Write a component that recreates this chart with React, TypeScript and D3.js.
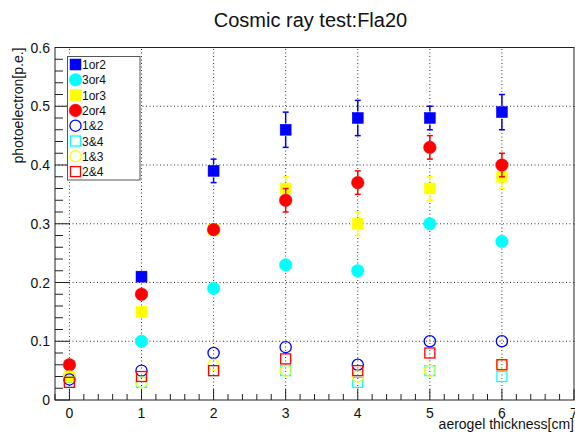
import React from "react";
import * as d3 from "d3";

const xs = [0, 1, 2, 3, 4, 5, 6];
const seriesNames = ["1or2", "3or4", "1or3", "2or4", "1&2", "3&4", "1&3", "2&4"];
const v1or2: (number | null)[] = [null, 0.21, 0.39, 0.46, 0.48, 0.48, 0.49];
const e1or2 = [0.01, 0.01, 0.02, 0.03, 0.03, 0.02, 0.03];
const v3or4 = [0.04, 0.1, 0.19, 0.23, 0.22, 0.3, 0.27];
const e3or4 = [0.01, 0.01, 0.01, 0.01, 0.01, 0.01, 0.01];
const v1or3 = [0.04, 0.15, 0.29, 0.36, 0.3, 0.36, 0.38];
const e1or3 = [0.01, 0.01, 0.01, 0.02, 0.02, 0.02, 0.02];
const v2or4 = [0.06, 0.18, 0.29, 0.34, 0.37, 0.43, 0.4];
const e2or4 = [0.01, 0.01, 0.01, 0.02, 0.02, 0.02, 0.02];
const v1and2 = [0.035, 0.05, 0.08, 0.09, 0.06, 0.1, 0.1];
const v3and4 = [0.03, 0.03, 0.05, 0.05, 0.03, 0.05, 0.04];
const v1and3 = [0.04, 0.03, 0.06, 0.05, 0.04, 0.05, 0.06];
const v2and4 = [0.03, 0.04, 0.05, 0.07, 0.05, 0.08, 0.06];
const xTicks = [0, 1, 2, 3, 4, 5, 6, 7];
const yTicks = [0, 0.1, 0.2, 0.3, 0.4, 0.5, 0.6];

type Series = { name: string; vals: (number | null)[]; errs: number[] | null; color: string; shape: "sq" | "ci"; filled: boolean };

const series: Series[] = [
  { name: seriesNames[0], vals: v1or2, errs: e1or2, color: "#0000ff", shape: "sq", filled: true },
  { name: seriesNames[1], vals: v3or4, errs: e3or4, color: "#00ffff", shape: "ci", filled: true },
  { name: seriesNames[2], vals: v1or3, errs: e1or3, color: "#ffff00", shape: "sq", filled: true },
  { name: seriesNames[3], vals: v2or4, errs: e2or4, color: "#ff0000", shape: "ci", filled: true },
  { name: seriesNames[4], vals: v1and2, errs: null, color: "#0000ff", shape: "ci", filled: false },
  { name: seriesNames[5], vals: v3and4, errs: null, color: "#00ffff", shape: "sq", filled: false },
  { name: seriesNames[6], vals: v1and3, errs: null, color: "#ffff00", shape: "ci", filled: false },
  { name: seriesNames[7], vals: v2and4, errs: null, color: "#ff0000", shape: "sq", filled: false },
];

const W = 575, H = 434;
const L = 55, R = 574, T = 47.5, B = 400;
const FONT = "'Liberation Sans', Arial, Helvetica, sans-serif";

function Marker({ s, cx, cy }: { s: Series; cx: number; cy: number }) {
  if (s.shape === "sq") {
    const h = s.filled ? 5.5 : 5;
    return (
      <rect x={cx - h} y={cy - h} width={2 * h} height={2 * h}
        fill={s.filled ? s.color : "none"} stroke={s.color} strokeWidth={s.filled ? 0.5 : 1.3} />
    );
  }
  const r = s.filled ? 6.3 : 5.6;
  return <circle cx={cx} cy={cy} r={r} fill={s.filled ? s.color : "none"} stroke={s.color} strokeWidth={s.filled ? 0.5 : 1.3} />;
}

export default function App() {
  const x = d3.scaleLinear().domain([-0.2, 7]).range([L, R]);
  const y = d3.scaleLinear().domain([0, 0.6]).range([B, T]);
  const xMinor = d3.range(-0.2, 7.0001, 0.2).map((v) => +v.toFixed(2));
  const yMinor = d3.range(0, 0.6001, 0.02).map((v) => +v.toFixed(3));
  const legX = 67.5, legY = 56.5, legW = 72.5, legH = 123.5;

  return (
    <svg width={W} height={H} style={{ position: "absolute", left: 0, top: 0, background: "#fff" }} fontFamily={FONT}>
      <rect x={0} y={0} width={W} height={H} fill="#fff" />
      {xs.map((v) => (
        <line key={"gx" + v} x1={x(v)} x2={x(v)} y1={B} y2={T} stroke="#333" strokeWidth={1} strokeDasharray="1,2.5" />
      ))}
      {yTicks.filter((v) => v > 0 && v < 0.6).map((v) => (
        <line key={"gy" + v} x1={L} x2={R} y1={y(v)} y2={y(v)} stroke="#333" strokeWidth={1} strokeDasharray="1,2.5" />
      ))}
      <rect x={L} y={T} width={R - L} height={B - T} fill="none" stroke="#222" strokeWidth={1} />
      {xMinor.map((v) => {
        const major = Math.abs(v - Math.round(v)) < 1e-6;
        return <line key={"xt" + v} x1={x(v)} x2={x(v)} y1={B} y2={B - (major ? 11 : 6)} stroke="#222" strokeWidth={1} />;
      })}
      {xTicks.map((v) => (
        <text key={"xl" + v} x={x(v)} y={418} fontSize={14} textAnchor="middle" fill="#111">{v}</text>
      ))}
      {yMinor.map((v) => {
        const major = Math.abs(v * 10 - Math.round(v * 10)) < 1e-6;
        return <line key={"yt" + v} x1={L} x2={L + (major ? 15 : 8)} y1={y(v)} y2={y(v)} stroke="#222" strokeWidth={1} />;
      })}
      {yTicks.map((v) => (
        <text key={"yl" + v} x={50} y={y(v) + 5} fontSize={14} textAnchor="end" fill="#111">{v === 0 ? "0" : v.toFixed(1)}</text>
      ))}
      <text x={310.5} y={26.5} fontSize={20} textAnchor="middle" fill="#111">Cosmic ray test:Fla20</text>
      <text x={574} y={429} fontSize={14} textAnchor="end" fill="#111">aerogel thickness[cm]</text>
      <text transform={`translate(23,${T}) rotate(-90)`} fontSize={14} textAnchor="end" fill="#111">photoelectron[p.e.]</text>
      {series.map((s) => (
        <g key={s.name}>
          {s.errs && xs.map((xv, i) => {
            const val = s.vals[i];
            if (val == null) return null;
            const cx = x(xv), cy = y(val);
            const top = y(val + s.errs![i]), bot = y(val - s.errs![i]);
            const half = 6.5;
            return (
              <g key={i} stroke={s.color} strokeWidth={1.5}>
                {cy - top > half && <line x1={cx} x2={cx} y1={top} y2={cy - half} />}
                {bot - cy > half && <line x1={cx} x2={cx} y1={cy + half} y2={bot} />}
                {cy - top > half && <line x1={cx - 3} x2={cx + 3} y1={top} y2={top} />}
                {bot - cy > half && <line x1={cx - 3} x2={cx + 3} y1={bot} y2={bot} />}
              </g>
            );
          })}
          {xs.map((xv, i) => {
            const val = s.vals[i];
            if (val == null) return null;
            return <Marker key={i} s={s} cx={x(xv)} cy={y(val)} />;
          })}
        </g>
      ))}
      <rect x={legX} y={legY} width={legW} height={legH} fill="#fff" stroke="#555" strokeWidth={1} />
      {series.map((s, i) => {
        const cy = legY + 8 + i * 15.3;
        return (
          <g key={"lg" + s.name}>
            <Marker s={s} cx={75.5} cy={cy} />
            <text x={82} y={cy + 4.5} fontSize={12} fill="#111">{s.name}</text>
          </g>
        );
      })}
    </svg>
  );
}
